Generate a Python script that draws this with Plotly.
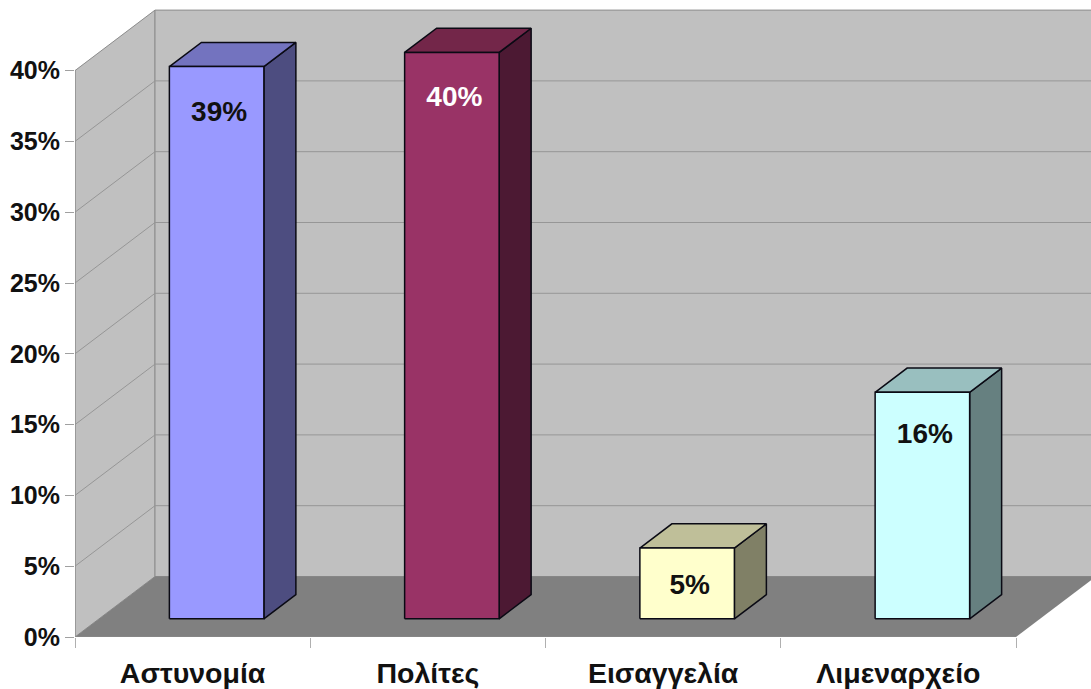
import plotly.graph_objects as go

# Data
categories = ["Αστυνομία", "Πολίτες", "Εισαγγελία", "Λιμεναρχείο"]
values = [39, 40, 5, 16]
value_labels = ["39%", "40%", "5%", "16%"]
label_colors = ["#111111", "#FFFFFF", "#111111", "#111111"]
y_ticks = [0, 5, 10, 15, 20, 25, 30, 35, 40]
front_colors = ["#9999FF", "#993366", "#FFFFCC", "#CCFFFF"]
top_colors = ["#7373BF", "#732649", "#BFBF99", "#99BFBF"]
side_colors = ["#4D4D80", "#4C1933", "#808066", "#668080"]

# Oblique projection, in axis units
PX_X, PX_Y = 235.25, 14.16
DX, DY = 80 / PX_X, 60.5 / PX_Y
BAR_W = 94.5 / PX_X
D0, D1 = 0.30, 0.70
XMAX = 1016 / PX_X
YMAX = 637 / PX_Y
YTOP = y_ticks[-1]
N = len(categories)
GRID = "#969696"
EDGE = "#8C8C8C"
FONT = "Liberation Sans"
LABEL_DROP = [3.32, 3.32, 2.75, 3.11]
LABEL_NUDGE = 2.5 / PX_X

fig = go.Figure()


def poly(xs, ys, fill, line_color=None, width=1.5):
    fig.add_trace(go.Scatter(
        x=xs + xs[:1], y=ys + ys[:1], mode="lines", fill="toself", fillcolor=fill,
        line=dict(color=line_color or fill, width=width if line_color else 0),
        hoverinfo="skip", showlegend=False))


# Walls and floor
poly([0, DX, DX, 0], [0, DY, YTOP + DY, YTOP], "#C0C0C0", EDGE, 1)
poly([DX, N + DX, N + DX, DX], [DY, DY, YTOP + DY, YTOP + DY], "#C0C0C0", EDGE, 1)

# Gridlines on both walls
gx, gy = [], []
for t in y_ticks[1:-1]:
    gx += [0, DX, N + DX, None]
    gy += [t, t + DY, t + DY, None]
fig.add_trace(go.Scatter(x=gx, y=gy, mode="lines", line=dict(color=GRID, width=1),
                         hoverinfo="skip", showlegend=False))

poly([0, N, N + DX, DX], [0, 0, DY, DY], "#808080")

# Bars
for i, v in enumerate(values):
    x0 = i + 0.5 - BAR_W / 2 + D0 * DX
    x1 = x0 + BAR_W
    y0 = D0 * DY
    sx, sy = (D1 - D0) * DX, (D1 - D0) * DY
    poly([x1, x1 + sx, x1 + sx, x1], [y0, y0 + sy, y0 + v + sy, y0 + v],
         side_colors[i], "#0A0A14")
    poly([x0, x1, x1 + sx, x0 + sx], [y0 + v, y0 + v, y0 + v + sy, y0 + v + sy],
         top_colors[i], "#0A0A14")
    poly([x0, x1, x1, x0], [y0, y0, y0 + v, y0 + v], front_colors[i], "#0A0A14")

# Data labels
for i, v in enumerate(values):
    fig.add_trace(go.Scatter(
        x=[i + 0.5 + D0 * DX + LABEL_NUDGE], y=[v + D0 * DY - LABEL_DROP[i]], mode="text",
        text=[value_labels[i]], textposition="middle center",
        textfont=dict(family=FONT, size=28, color=label_colors[i], weight="bold"),
        hoverinfo="skip", showlegend=False))

# Axis lines
fig.add_trace(go.Scatter(x=[0, 0, N], y=[YTOP, 0, 0], mode="lines", cliponaxis=False,
                         line=dict(color=EDGE, width=1), hoverinfo="skip", showlegend=False))

fig.update_layout(
    width=1091, height=689, autosize=False,
    margin=dict(l=75, r=0, t=0, b=52, pad=0),
    paper_bgcolor="white", plot_bgcolor="white", showlegend=False,
    xaxis=dict(
        range=[0, XMAX], showgrid=False, zeroline=False, showline=False,
        tickmode="array", tickvals=[i + 0.5 for i in range(N)], ticktext=categories,
        ticks="", ticklabelstandoff=16,
        tickfont=dict(family=FONT, size=28.5, color="#111111", weight="bold"),
        minor=dict(tickmode="array", tickvals=list(range(N + 1)), ticks="outside",
                   ticklen=10, tickcolor="#B0B0B0", tickwidth=1, showgrid=False),
    ),
    yaxis=dict(
        range=[0, YMAX], showgrid=False, zeroline=False, showline=False,
        tickmode="array", tickvals=y_ticks, ticktext=[f"{t}%" for t in y_ticks],
        ticks="outside", ticklen=9, tickcolor="#A0A0A0", tickwidth=1, ticklabelstandoff=0,
        tickfont=dict(family=FONT, size=25, color="#111111", weight="bold"),
    ),
)

fig.write_html("out.html", post_script="document.body.style.margin='0';", config={"displayModeBar": False})
